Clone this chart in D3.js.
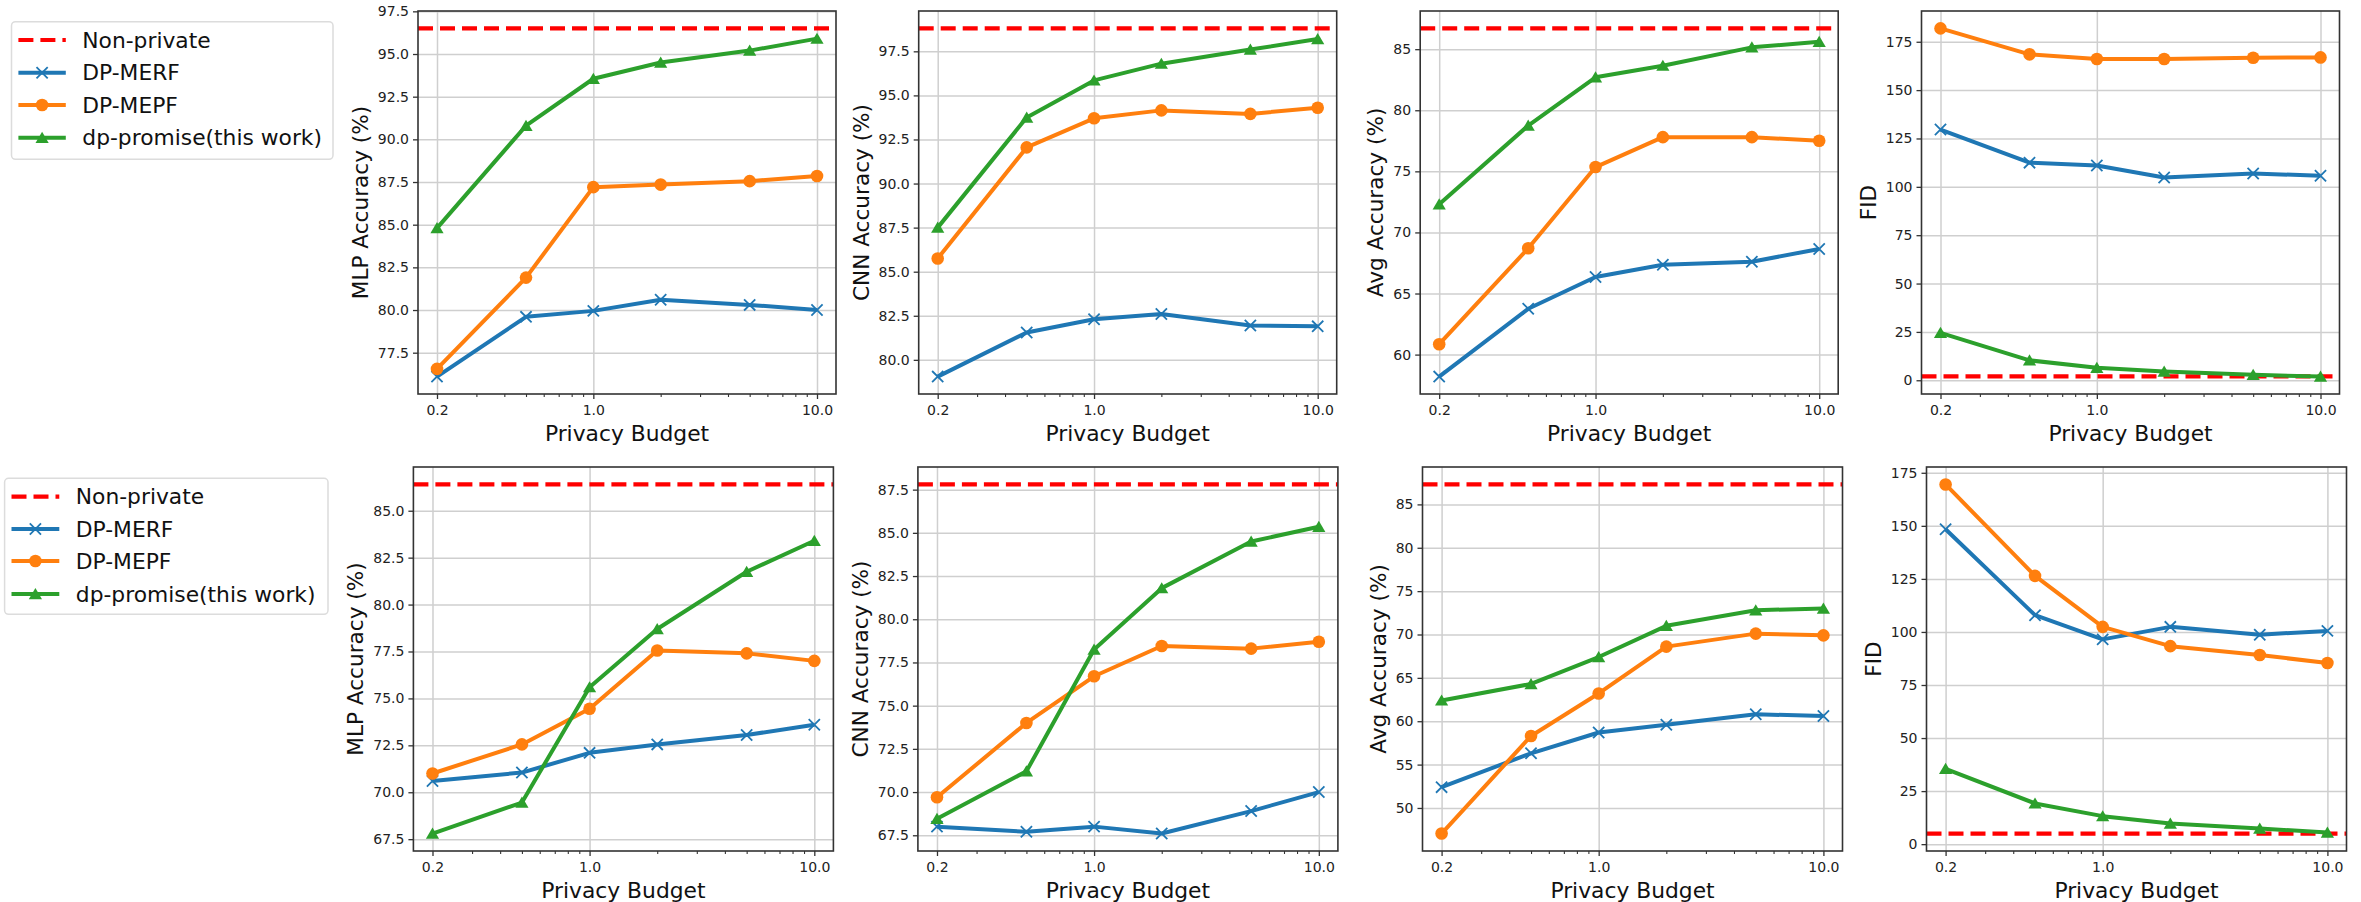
<!DOCTYPE html>
<html>
<head>
<meta charset="utf-8">
<script src="https://cdn.jsdelivr.net/npm/d3@7"></script>
<style>
  body { margin: 0; background: #fff; }
  svg { display: block; }
  text { font-family: "DejaVu Sans", sans-serif; }
</style>
</head>
<body>
<svg id="chart" width="2361" height="902"></svg>
<script>
// ---- data ----
const budgets = [0.2, 0.5, 1, 2, 5, 10];
const budgetTicks = [0.2, 1, 10];
const budgetTickLabels = ["0.2", "1.0", "10.0"];
const budgetMinorTicks = [0.3, 0.4, 0.5, 0.6, 0.7, 0.8, 0.9, 2, 3, 4, 5, 6, 7, 8, 9];

const baselineName = "Non-private";
const methods = ["DP-MERF", "DP-MEPF", "dp-promise(this work)"];
const yLabels = ["MLP Accuracy (%)", "CNN Accuracy (%)", "Avg Accuracy (%)", "FID"];
const xLabel = "Privacy Budget";

// first row
const row1Baseline = [96.5, 98.8, 86.7, 2.0];
const row1MlpMerf = [76.1, 79.6, 79.95, 80.6, 80.3, 80.0];
const row1MlpMepf = [76.55, 81.9, 87.2, 87.35, 87.55, 87.85];
const row1MlpPromise = [84.8, 90.8, 93.55, 94.5, 95.2, 95.9];
const row1CnnMerf = [79.05, 81.55, 82.3, 82.6, 81.95, 81.9];
const row1CnnMepf = [85.75, 92.05, 93.7, 94.15, 93.95, 94.3];
const row1CnnPromise = [87.5, 93.75, 95.85, 96.8, 97.6, 98.2];
const row1AvgMerf = [58.2, 63.75, 66.35, 67.35, 67.6, 68.65];
const row1AvgMepf = [60.85, 68.7, 75.35, 77.8, 77.8, 77.5];
const row1AvgPromise = [72.3, 78.75, 82.7, 83.65, 85.15, 85.6];
const row1FidMerf = [129.6, 112.5, 111.0, 104.8, 106.9, 105.7];
const row1FidMepf = [181.9, 168.5, 166.1, 166.1, 166.7, 166.9];
const row1FidPromise = [24.5, 10.3, 6.5, 4.5, 2.8, 1.9];

// second row
const row2Baseline = [86.4, 87.8, 87.3, 5.0];
const row2MlpMerf = [70.6, 71.05, 72.1, 72.55, 73.05, 73.6];
const row2MlpMepf = [71.0, 72.55, 74.45, 77.55, 77.4, 77.0];
const row2MlpPromise = [67.8, 69.45, 75.6, 78.7, 81.75, 83.4];
const row2CnnMerf = [68.0, 67.7, 68.0, 67.6, 68.9, 70.0];
const row2CnnMepf = [69.7, 74.0, 76.7, 78.45, 78.3, 78.7];
const row2CnnPromise = [68.45, 71.2, 78.25, 81.8, 84.5, 85.35];
const row2AvgMerf = [52.4, 56.3, 58.7, 59.6, 60.8, 60.6];
const row2AvgMepf = [47.05, 58.3, 63.2, 68.6, 70.1, 69.9];
const row2AvgPromise = [62.4, 64.3, 67.4, 71.0, 72.8, 73.0];
const row2FidMerf = [148.4, 107.9, 96.5, 102.4, 98.7, 100.5];
const row2FidMepf = [169.5, 126.4, 102.4, 93.3, 89.1, 85.4];
const row2FidPromise = [35.5, 19.2, 13.2, 9.7, 7.4, 5.5];

// y tick values
const row1MlpTicks = [77.5, 80, 82.5, 85, 87.5, 90, 92.5, 95, 97.5];
const row1CnnTicks = [80, 82.5, 85, 87.5, 90, 92.5, 95, 97.5];
const row1AvgTicks = [60, 65, 70, 75, 80, 85];
const row2MlpTicks = [67.5, 70, 72.5, 75, 77.5, 80, 82.5, 85];
const row2CnnTicks = [67.5, 70, 72.5, 75, 77.5, 80, 82.5, 85, 87.5];
const row2AvgTicks = [50, 55, 60, 65, 70, 75, 80, 85];
const fidTicks = [0, 25, 50, 75, 100, 125, 150, 175];
const tickFormats = [".1f", ".1f", "d", "d"];

// ---- styles ----
const colors = { base: "#ff0000", merf: "#1f77b4", mepf: "#ff7f0e", promise: "#2ca02c" };
const seriesKeys = ["merf", "mepf", "promise"];
const markerKinds = ["x", "circle", "triangle"];

// ---- layout ----
const rowsLayout = [
  {
    top: 11, bottom: 394, width: 418, lefts: [418, 918.7, 1420.2, 1921.5],
    legend: { x: 11.5, y: 21.7, w: 321.5, h: 137.6, lineX0: 18.4, lineX1: 65.8, textX: 82.3, ys: [40, 72.7, 105, 137.7] }
  },
  {
    top: 467, bottom: 851, width: 420, lefts: [413.4, 917.9, 1422.5, 1926.5],
    legend: { x: 4.6, y: 478.3, w: 323.4, h: 136, lineX0: 11.5, lineX1: 59.3, textX: 75.8, ys: [496.7, 529, 561, 594] }
  }
];

const rowsData = [
  {
    baseline: row1Baseline,
    ticks: [row1MlpTicks, row1CnnTicks, row1AvgTicks, fidTicks],
    series: [
      [row1MlpMerf, row1MlpMepf, row1MlpPromise],
      [row1CnnMerf, row1CnnMepf, row1CnnPromise],
      [row1AvgMerf, row1AvgMepf, row1AvgPromise],
      [row1FidMerf, row1FidMepf, row1FidPromise]
    ]
  },
  {
    baseline: row2Baseline,
    ticks: [row2MlpTicks, row2CnnTicks, row2AvgTicks, fidTicks],
    series: [
      [row2MlpMerf, row2MlpMepf, row2MlpPromise],
      [row2CnnMerf, row2CnnMepf, row2CnnPromise],
      [row2AvgMerf, row2AvgMepf, row2AvgPromise],
      [row2FidMerf, row2FidMepf, row2FidPromise]
    ]
  }
];

const svg = d3.select("#chart");

// marker drawing
function drawMarker(g, kind, color, x, y) {
  if (kind === "circle") {
    g.append("circle").attr("cx", x).attr("cy", y).attr("r", 6.3).attr("fill", color);
  } else if (kind === "triangle") {
    g.append("path")
      .attr("transform", `translate(${x},${y})`)
      .attr("d", "M0,-6 L6.6,5.2 L-6.6,5.2 Z")
      .attr("fill", color);
  } else {
    const s = 5.6;
    g.append("path")
      .attr("transform", `translate(${x},${y})`)
      .attr("d", `M${-s},${-s}L${s},${s}M${-s},${s}L${s},${-s}`)
      .attr("stroke", color).attr("stroke-width", 1.8).attr("fill", "none");
  }
}

// x domain: 5% padding on the log axis
const logLo = Math.log10(d3.min(budgets)), logHi = Math.log10(d3.max(budgets));
const logPad = (logHi - logLo) * 0.05;
const xDomain = [Math.pow(10, logLo - logPad), Math.pow(10, logHi + logPad)];

rowsData.forEach((rowData, ri) => {
  const lay = rowsLayout[ri];
  const h = lay.bottom - lay.top;

  rowData.series.forEach((panelSeries, pi) => {
    const left = lay.lefts[pi];
    const w = lay.width;
    const g = svg.append("g").attr("transform", `translate(${left},${lay.top})`);

    const x = d3.scaleLog().domain(xDomain).range([0, w]);
    const allVals = panelSeries.flat().concat([rowData.baseline[pi]]);
    const vMin = d3.min(allVals), vMax = d3.max(allVals);
    const vPad = (vMax - vMin) * 0.05;
    const y = d3.scaleLinear().domain([vMin - vPad, vMax + vPad]).range([h, 0]);

    // grid
    g.append("g").attr("class", "grid")
      .call(d3.axisLeft(y).tickValues(rowData.ticks[pi]).tickSize(-w).tickFormat(""))
      .call(s => s.select(".domain").remove())
      .call(s => s.selectAll("line").attr("stroke", "#cfcfcf").attr("stroke-width", 1.5));
    g.append("g").attr("class", "grid")
      .attr("transform", `translate(0,${h})`)
      .call(d3.axisBottom(x).tickValues(budgetTicks).tickSize(-h).tickFormat(""))
      .call(s => s.select(".domain").remove())
      .call(s => s.selectAll("line").attr("stroke", "#cfcfcf").attr("stroke-width", 1.5));

    // y axis
    const yAxis = g.append("g")
      .call(d3.axisLeft(y).tickValues(rowData.ticks[pi]).tickSize(5).tickPadding(4)
        .tickFormat(d3.format(tickFormats[pi])))
      .call(s => s.select(".domain").remove());
    yAxis.selectAll("line").attr("stroke", "#333").attr("stroke-width", 1.3);
    yAxis.selectAll("text").attr("font-size", 14).attr("fill", "#222")
      .attr("font-family", "DejaVu Sans, sans-serif");

    // x axis, major + minor
    const xAxis = g.append("g").attr("transform", `translate(0,${h})`)
      .call(d3.axisBottom(x).tickValues(budgetTicks).tickSize(5).tickPadding(6)
        .tickFormat((d, i) => budgetTickLabels[i]))
      .call(s => s.select(".domain").remove());
    xAxis.selectAll("line").attr("stroke", "#333").attr("stroke-width", 1.3);
    xAxis.selectAll("text").attr("font-size", 14).attr("fill", "#222")
      .attr("font-family", "DejaVu Sans, sans-serif");
    g.append("g").attr("transform", `translate(0,${h})`)
      .call(d3.axisBottom(x).tickValues(budgetMinorTicks).tickSize(3).tickFormat(""))
      .call(s => s.select(".domain").remove())
      .call(s => s.selectAll("line").attr("stroke", "#333").attr("stroke-width", 1.1));

    // non-private reference
    g.append("line")
      .attr("x1", 0).attr("x2", w)
      .attr("y1", y(rowData.baseline[pi])).attr("y2", y(rowData.baseline[pi]))
      .attr("stroke", colors.base).attr("stroke-width", 4.2)
      .attr("stroke-dasharray", "15,7");

    // series
    const line = d3.line().x((d, i) => x(budgets[i])).y(d => y(d));
    panelSeries.forEach((vals, si) => {
      const col = colors[seriesKeys[si]];
      const sg = g.append("g");
      sg.append("path").datum(vals).attr("d", line)
        .attr("fill", "none").attr("stroke", col).attr("stroke-width", 4)
        .attr("stroke-linejoin", "round");
      vals.forEach((v, i) => drawMarker(sg, markerKinds[si], col, x(budgets[i]), y(v)));
    });

    // frame
    g.append("rect").attr("x", 0).attr("y", 0).attr("width", w).attr("height", h)
      .attr("fill", "none").attr("stroke", "#333").attr("stroke-width", 1.6);

    // axis titles
    let maxW = 0;
    yAxis.selectAll("text").each(function () { maxW = Math.max(maxW, this.getComputedTextLength()); });
    g.append("text")
      .attr("transform", `translate(${-9 - maxW - 17.5},${h / 2}) rotate(-90)`)
      .attr("text-anchor", "middle").attr("dominant-baseline", "central")
      .attr("font-size", 21.6).attr("fill", "#111")
      .text(yLabels[pi]);
    g.append("text")
      .attr("x", w / 2).attr("y", h + 39)
      .attr("text-anchor", "middle").attr("dominant-baseline", "central")
      .attr("font-size", 21.8).attr("fill", "#111")
      .text(xLabel);
  });

  // legend
  const L = lay.legend;
  const lg = svg.append("g");
  lg.append("rect").attr("x", L.x).attr("y", L.y).attr("width", L.w).attr("height", L.h)
    .attr("rx", 4).attr("fill", "#fff").attr("stroke", "#dcdcdc").attr("stroke-width", 1.5);
  const entries = [{ name: baselineName, key: "base", kind: null }]
    .concat(methods.map((m, i) => ({ name: m, key: seriesKeys[i], kind: markerKinds[i] })));
  entries.forEach((e, i) => {
    const yy = L.ys[i];
    const ln = lg.append("line").attr("x1", L.lineX0).attr("x2", L.lineX1)
      .attr("y1", yy).attr("y2", yy).attr("stroke", colors[e.key]);
    if (e.kind === null) {
      ln.attr("stroke-width", 4.2).attr("stroke-dasharray", "15,7");
    } else {
      ln.attr("stroke-width", 4);
      drawMarker(lg, e.kind, colors[e.key], (L.lineX0 + L.lineX1) / 2, yy);
    }
    lg.append("text").attr("x", L.textX).attr("y", yy)
      .attr("dominant-baseline", "central").attr("font-size", 21.8).attr("fill", "#111")
      .text(e.name);
  });
});
</script>
</body>
</html>
